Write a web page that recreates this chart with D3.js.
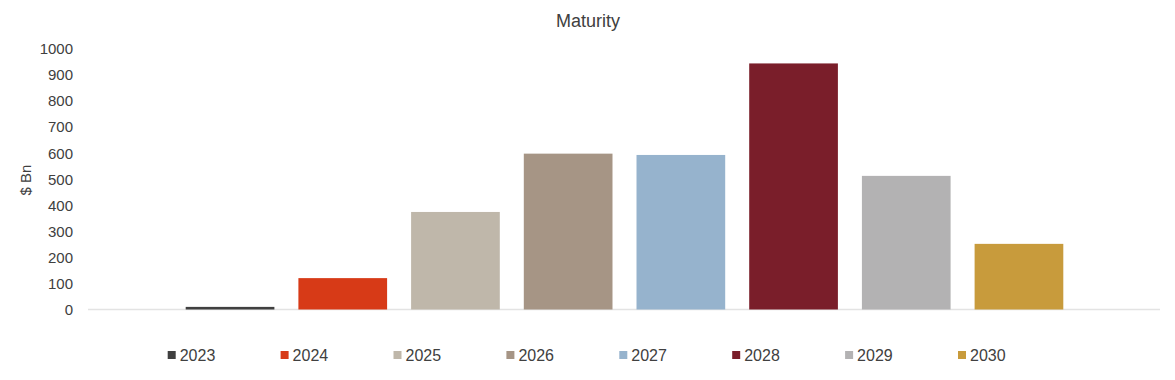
<!DOCTYPE html>
<html>
<head>
<meta charset="utf-8">
<script src="https://cdn.jsdelivr.net/npm/d3@7"></script>
<style>
  html, body { margin: 0; padding: 0; background: #fff; }
  svg { display: block; font-family: "Liberation Sans", Arial, sans-serif; }
</style>
</head>
<body>
<svg id="chart" width="1175" height="380"></svg>
<script>
const years = ["2023", "2024", "2025", "2026", "2027", "2028", "2029", "2030"];
const values = [10, 120, 373, 596, 591, 941, 511, 251];
const colors = ["#404040", "#D73A17", "#BFB7AA", "#A69585", "#96B3CD", "#7A1E2A", "#B3B2B3", "#C89B3C"];
const yTicks = [0, 100, 200, 300, 400, 500, 600, 700, 800, 900, 1000];
const title = "Maturity";
const yTitle = "$ Bn";

const svg = d3.select("#chart");
const W = 1175, H = 380;
const plotLeft = 88, plotRight = 1160, baseY = 309.5, topY = 48;

const x = d3.scaleBand().domain(years).range([185.7, 1063.3]).paddingInner(0.213).paddingOuter(0);
const y = d3.scaleLinear().domain([0, 1000]).range([baseY, topY]);

const textColor = "#404040";

// title
svg.append("text").attr("x", 588).attr("y", 27).attr("text-anchor", "middle")
  .attr("font-size", 18).attr("fill", textColor).text(title);

// y axis title
svg.append("text").attr("transform", `translate(31,${180}) rotate(-90)`)
  .attr("text-anchor", "middle").attr("font-size", 15).attr("fill", textColor).text(yTitle);

// y axis
const yAxis = d3.axisLeft(y).tickValues(yTicks).tickSize(0).tickPadding(0).tickFormat(d3.format("d"));
const gy = svg.append("g").attr("transform", "translate(73,0)").call(yAxis);
gy.select(".domain").remove();
gy.selectAll("text").attr("font-size", 15).attr("fill", textColor)
  .attr("font-family", "Liberation Sans, Arial, sans-serif").attr("dy", "0.36em");

// baseline
svg.append("line").attr("x1", plotLeft).attr("x2", plotRight).attr("y1", y(0)).attr("y2", y(0))
  .attr("stroke", "#e3e3e3").attr("stroke-width", 1.5);

// bars
svg.append("g").selectAll("rect").data(years).join("rect")
  .attr("x", d => x(d))
  .attr("width", x.bandwidth())
  .attr("y", (d, i) => y(values[i]))
  .attr("height", (d, i) => y(0) - y(values[i]))
  .attr("fill", (d, i) => colors[i]);

// legend
const legendStart = 167.7, legendStep = 112.9, legendY = 355;
const lg = svg.append("g").selectAll("g").data(years).join("g")
  .attr("transform", (d, i) => `translate(${legendStart + i * legendStep},${legendY})`);
lg.append("rect").attr("x", 0).attr("y", -4).attr("width", 8).attr("height", 8)
  .attr("fill", (d, i) => colors[i]);
lg.append("text").attr("x", 12).attr("y", 0).attr("dy", "0.36em")
  .attr("font-size", 16).attr("fill", textColor).text(d => d);
</script>
</body>
</html>
